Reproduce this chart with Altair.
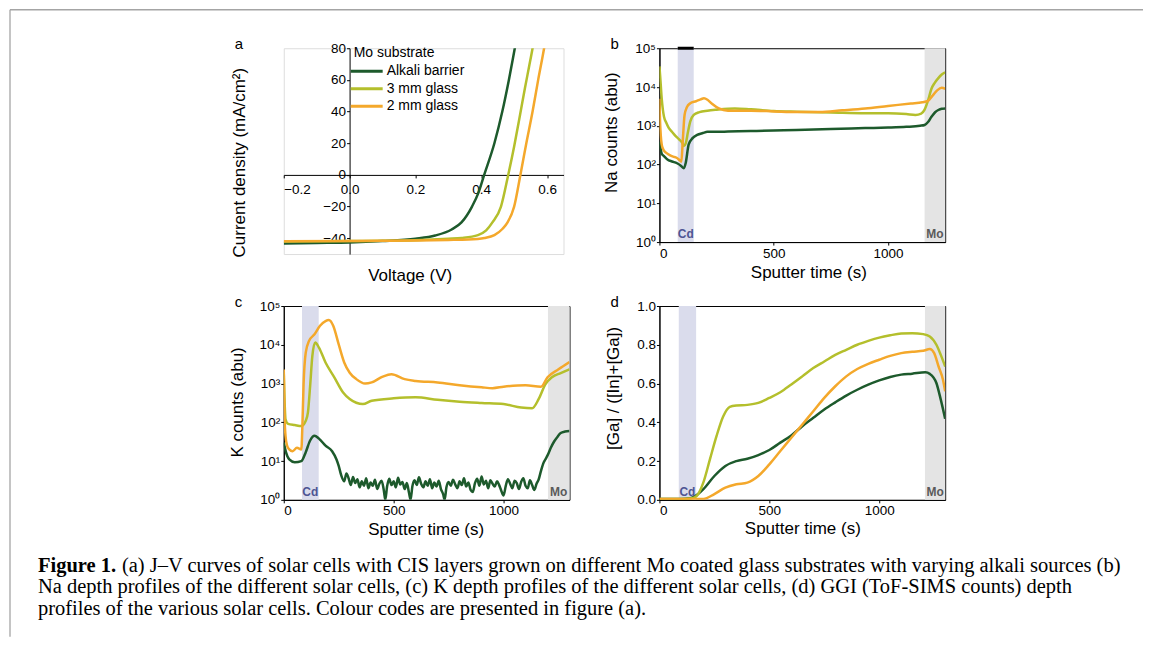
import altair as alt
import pandas as pd

FONT = "Liberation Sans"
SERIF = "Liberation Serif"
SERIES = ["Alkali barrier", "3 mm glass", "2 mm glass"]
COLORS = ["#1d5a2c", "#b4bf2c", "#f4a82b"]

# ---------------- panel a : J-V curves ----------------
jv_v_ab = [-0.2, -0.1, 0.0, 0.1, 0.2, 0.26, 0.31, 0.34, 0.372, 0.392, 0.409, 0.44, 0.464, 0.484, 0.502, 0.52]
jv_j_ab = [-43.3, -43.0, -42.7, -41.8, -40.3, -38.3, -34.5, -30.0, -20.0, -11.0, 0.0, 20.0, 40.0, 60.0, 80.0, 100.0]
jv_v_3 = [-0.2, 0.0, 0.1, 0.2, 0.3, 0.34, 0.39, 0.415, 0.434, 0.46, 0.482, 0.50, 0.518, 0.533, 0.545, 0.556, 0.57]
jv_j_3 = [-42.0, -41.8, -41.6, -41.2, -40.3, -39.8, -38.0, -35.0, -30.0, -20.0, 0.0, 18.0, 38.0, 55.0, 68.0, 80.0, 98.0]
jv_v_2 = [-0.2, 0.0, 0.1, 0.2, 0.3, 0.36, 0.41, 0.44, 0.465, 0.48, 0.50, 0.519, 0.537, 0.556, 0.573, 0.591, 0.605]
jv_j_2 = [-41.9, -41.8, -41.6, -41.4, -41.1, -40.8, -39.8, -38.0, -34.0, -30.0, -20.0, 0.0, 20.0, 40.0, 60.0, 80.0, 98.0]

# ---------------- panel b : Na depth profiles ----------------
na_t_ab = [0, 5, 10, 20, 35, 55, 77, 95, 107, 115, 128, 145, 165, 190, 210, 250, 300, 400, 500, 600, 750, 900, 1000, 1080, 1140, 1160, 1175, 1190, 1205, 1220, 1235, 1250]
na_v_ab = [390, 260, 190, 165, 135, 120, 108, 92, 80, 110, 330, 480, 580, 650, 700, 700, 710, 730, 755, 780, 830, 870, 900, 940, 1000, 1050, 1250, 1700, 2200, 2550, 2750, 2800]
na_t_3 = [0, 3, 6, 10, 15, 20, 30, 40, 55, 70, 85, 100, 107, 115, 125, 135, 150, 175, 210, 250, 330, 400, 500, 600, 750, 900, 1000, 1080, 1120, 1145, 1160, 1175, 1190, 1205, 1220, 1235, 1250]
na_v_3 = [34000, 20000, 11000, 5000, 2600, 1700, 1200, 900, 700, 550, 450, 360, 300, 350, 700, 1300, 1900, 2250, 2450, 2600, 2800, 2650, 2400, 2300, 2200, 2100, 2100, 2000, 1900, 2050, 2600, 4500, 9000, 13000, 17000, 21000, 24000]
na_t_2 = [0, 3, 6, 10, 15, 22, 30, 45, 60, 75, 88, 96, 102, 110, 120, 135, 160, 180, 195, 210, 230, 260, 300, 400, 500, 600, 700, 800, 900, 1000, 1100, 1150, 1175, 1195, 1215, 1235, 1250]
na_v_2 = [5000, 1200, 550, 330, 260, 220, 200, 175, 160, 150, 130, 118, 400, 1900, 3000, 3800, 4300, 4800, 5100, 4700, 3700, 2800, 2450, 2450, 2350, 2250, 2250, 2500, 2800, 3250, 3750, 4050, 4400, 6000, 8200, 9500, 9000]

# ---------------- panel c : K depth profiles ----------------
k_t_ab = [0, 10, 25, 50, 80, 100, 120, 140, 160, 190, 220, 240, 250, 262, 275, 285, 295, 305, 315, 325,
          335, 345, 355, 365, 375, 385, 395, 405, 415, 425, 435, 445, 455, 462, 470, 480, 490, 500, 510, 520,
          530, 540, 550, 560, 570, 577, 585, 595, 605, 615, 625, 635, 645, 655, 665, 675, 685, 695, 705, 715,
          725, 732, 740, 750, 760, 770, 780, 790, 800, 810, 820, 830, 840, 850, 860, 870, 880, 890, 900, 910,
          920, 930, 940, 950, 960, 970, 980, 990, 1000, 1010, 1020, 1030, 1040, 1050, 1060, 1070, 1080, 1090, 1100, 1110,
          1120, 1130, 1140, 1150, 1160, 1170, 1180, 1190, 1200, 1215, 1230, 1245, 1260, 1280, 1300]
k_v_ab = [30, 17, 11, 9.3, 10, 17, 34, 45, 38, 25, 18, 11, 7.5, 4.2, 3.0, 4.8, 3.6, 2.4, 3.9, 2.7,
          3.4, 2.1, 3.0, 2.3, 3.6, 2.0, 2.8, 2.3, 3.3, 1.9, 2.6, 3.1, 1.8, 1.0, 2.2, 3.5, 2.4, 3.0, 2.1, 3.7,
          2.5, 2.9, 1.9, 2.7, 1.5, 1.0, 2.2, 3.2, 2.4, 3.8, 2.6, 2.1, 3.0, 2.3, 3.4, 2.0, 2.8, 2.2, 3.1, 1.9,
          1.4, 1.0, 2.1, 2.9, 2.3, 3.3, 2.5, 2.0, 3.0, 2.4, 3.6, 2.2, 2.8, 1.8, 1.6, 2.7, 3.5, 2.3, 4.0, 2.5,
          3.1, 2.0, 3.2, 2.6, 2.2, 3.0, 2.4, 1.7, 1.3, 2.3, 3.4, 2.6, 2.0, 3.1, 2.7, 1.9, 2.9, 3.6, 2.3, 2.0,
          3.2, 2.4, 1.8, 2.6, 3.4, 5.5, 8.5, 11, 14, 22, 32, 42, 53, 58, 60]
k_t_3 = [0, 3, 8, 20, 50, 80, 100, 110, 120, 130, 143, 160, 190, 230, 270, 300, 330, 360, 400, 500, 600, 700, 800, 900, 1000, 1080, 1130, 1160, 1190, 1220, 1260, 1300]
k_v_3 = [1900, 480, 120, 91, 85, 80, 110, 180, 870, 5100, 11500, 8500, 3500, 1450, 590, 400, 320, 295, 360, 415, 440, 380, 340, 315, 295, 240, 230, 400, 950, 1450, 1860, 2340]
k_t_2 = [0, 3, 8, 15, 25, 40, 60, 80, 85, 90, 100, 115, 140, 165, 190, 205, 225, 250, 275, 300, 330, 370, 400, 450, 490, 550, 600, 700, 800, 900, 950, 1000, 1100, 1170, 1200, 1250, 1300]
k_v_2 = [2300, 180, 45, 25, 20, 18, 22, 20, 90, 900, 6300, 12600, 18600, 31000, 41000, 43500, 31000, 10200, 3500, 1900, 1300, 1000, 1070, 1510, 1740, 1300, 1170, 1070, 910, 800, 760, 830, 910, 830, 1450, 2340, 3600]

# ---------------- panel d : GGI depth profiles ----------------
g_t_ab = [0, 100, 140, 160, 200, 250, 300, 350, 400, 450, 500, 550, 600, 650, 700, 750, 800, 850, 900, 950, 1000, 1050, 1100, 1150, 1210, 1230, 1260, 1280, 1300]
g_v_ab = [0.005, 0.005, 0.008, 0.017, 0.055, 0.123, 0.175, 0.20, 0.212, 0.231, 0.257, 0.295, 0.332, 0.38, 0.423, 0.466, 0.503, 0.538, 0.568, 0.594, 0.616, 0.634, 0.646, 0.651, 0.658, 0.65, 0.603, 0.517, 0.418]
g_t_3 = [0, 100, 150, 170, 200, 230, 260, 290, 320, 350, 400, 450, 500, 550, 600, 650, 700, 750, 800, 850, 900, 950, 1000, 1050, 1100, 1150, 1200, 1230, 1260, 1280, 1300]
g_v_3 = [0.005, 0.005, 0.008, 0.02, 0.09, 0.21, 0.33, 0.43, 0.48, 0.487, 0.49, 0.50, 0.526, 0.555, 0.595, 0.637, 0.68, 0.714, 0.748, 0.774, 0.80, 0.82, 0.837, 0.849, 0.858, 0.86, 0.855, 0.843, 0.80, 0.748, 0.688]
g_t_2 = [0, 100, 170, 200, 250, 300, 350, 400, 450, 500, 550, 600, 650, 700, 750, 800, 850, 900, 950, 1000, 1050, 1100, 1150, 1200, 1230, 1250, 1270, 1290, 1300]
g_v_2 = [0.005, 0.005, 0.005, 0.005, 0.03, 0.063, 0.08, 0.089, 0.123, 0.183, 0.252, 0.32, 0.389, 0.457, 0.526, 0.586, 0.637, 0.675, 0.702, 0.723, 0.743, 0.757, 0.764, 0.769, 0.778, 0.757, 0.688, 0.62, 0.56]

# layer bands (Cd buffer, Mo back contact) per panel
bands_b = [80, 150, 1160, 1250]
bands_c = [83, 159, 1202, 1300]
bands_d = [88, 167, 1208, 1300]

CAPTION_BOLD = "Figure 1."
CAPTION_1 = "(a) J\u2013V curves of solar cells with CIS layers grown on different Mo coated glass substrates with varying alkali sources (b)"
CAPTION_2 = "Na depth profiles of the different solar cells, (c) K depth profiles of the different solar cells, (d) GGI (ToF-SIMS counts) depth"
CAPTION_3 = "profiles of the various solar cells. Colour codes are presented in figure (a)."

SUP = ["\u2070", "\u00b9", "\u00b2", "\u00b3", "\u2074", "\u2075"]


def long_df(xs_list, ys_list):
    rows = []
    for name, xs, ys in zip(SERIES, xs_list, ys_list):
        assert len(xs) == len(ys), name
        for i, (x, y) in enumerate(zip(xs, ys)):
            rows.append({"x": x, "y": y, "s": name, "o": i})
    return pd.DataFrame(rows)


ONE = pd.DataFrame({"k": [0]})
PW, PH = 286, 194

color_nolegend = alt.Color("s:N", scale=alt.Scale(domain=SERIES, range=COLORS), legend=None)


def letter(ch, dx, dy):
    return alt.Chart(ONE).mark_text(font=FONT, fontSize=15, align="left", baseline="middle", color="black").encode(
        x=alt.value(dx), y=alt.value(dy), text=alt.value(ch))


def depth_panel(df, bands, xmax, ylog, ytitle, ytx, yty, xtx, xty, lab, top_bar=False):
    xs = alt.Scale(domain=[0, xmax], nice=False)
    xaxis = alt.Axis(values=[0, 500, 1000], format="d", title="Sputter time (s)",
                     titleX=xtx, titleY=xty, titleBaseline="middle")
    if ylog:
        ys = alt.Scale(type="log", domain=[1, 1e5], nice=False)
        yaxis = alt.Axis(values=[1, 10, 100, 1000, 10000, 100000], title=ytitle,
                         labelExpr="'10' + " + str(SUP) + "[round(log(datum.value)/LN10)]",
                         titleX=ytx, titleY=yty, titleBaseline="middle")
    else:
        ys = alt.Scale(domain=[0, 1], nice=False)
        yaxis = alt.Axis(values=[0, 0.2, 0.4, 0.6, 0.8, 1.0], format=".1f", title=ytitle,
                         titleX=ytx, titleY=yty, titleBaseline="middle")
    X = alt.X("x:Q", scale=xs, axis=xaxis)
    bdf = pd.DataFrame({"x": [bands[0], bands[2]], "x2": [bands[1], bands[3]],
                        "lab": ["Cd", "Mo"], "c": [(bands[0] + bands[1]) / 2, (bands[2] + bands[3]) / 2]})
    band = alt.Chart(bdf).mark_rect().encode(
        x=X, x2="x2:Q",
        color=alt.Color("lab:N", scale=alt.Scale(domain=["Cd", "Mo"], range=["#dadcec", "#e4e4e4"]), legend=None))
    lines = alt.Chart(df).mark_line(strokeWidth=2.5, clip=True, interpolate="monotone").encode(
        x=X, y=alt.Y("y:Q", scale=ys, axis=yaxis), color=color_nolegend, order="o:Q")
    labs = alt.Chart(bdf).mark_text(font=FONT, fontSize=12, fontWeight="bold", baseline="bottom").encode(
        x=alt.X("c:Q", scale=xs, axis=xaxis), y=alt.value(PH - 1), text="lab:N",
        color=alt.Color("lab:N", scale=alt.Scale(domain=["Cd", "Mo"], range=["#4e5593", "#5a5a5a"]), legend=None))
    layers = [band, lines, labs, letter(lab, -49, -4)]
    if top_bar:
        bar = alt.Chart(bdf.iloc[:1]).mark_rule(color="black", strokeWidth=3).encode(
            x=X, x2="x2:Q", y=alt.value(0))
        layers.append(bar)
    return alt.layer(*layers).resolve_scale(color="independent").properties(
        width=PW, height=PH, view=alt.ViewBackground(stroke="black", strokeWidth=1))


# ---------- panel a ----------
AW, AH = 280, 206
a_xs = alt.Scale(domain=[-0.2, 0.65], nice=False)
a_ys = alt.Scale(domain=[-50, 80], nice=False)
x_off = AW * 0.2 / 0.85
y_off = AH * 50 / 130
jv = long_df([jv_v_ab, jv_v_3, jv_v_2], [jv_j_ab, jv_j_3, jv_j_2])
a_lines = alt.Chart(jv).mark_line(strokeWidth=2.5, clip=True, interpolate="monotone").encode(
    x=alt.X("x:Q", scale=a_xs, axis=alt.Axis(values=[-0.2, 0, 0.2, 0.4, 0.6], format=".1f", offset=-y_off,
                                             labelPadding=5, title="Voltage (V)", titleX=126, titleY=101,
                                             titleBaseline="middle")),
    y=alt.Y("y:Q", scale=a_ys, axis=alt.Axis(values=[-40, -20, 0, 20, 40, 60, 80], offset=-x_off,
                                             title="Current density (mA/cm\u00b2)", titleX=-110, titleY=114,
                                             titleBaseline="middle")),
    color=alt.Color("s:N", scale=alt.Scale(domain=SERIES, range=COLORS),
                    legend=alt.Legend(title="Mo substrate", orient="none", legendX=70, legendY=-2,
                                      symbolType="M-3.2,0H3.2", symbolSize=100, symbolStrokeWidth=3,
                                      symbolOffset=6, labelOffset=13, rowPadding=3.5, titlePadding=4,
                                      labelFontSize=14, titleFontSize=14, titleFontWeight="normal",
                                      labelFont=FONT, titleFont=FONT, padding=0, labelColor="black",
                                      titleColor="black")),
    order="o:Q")
border_left = alt.Chart(ONE).mark_rule(color="#c4c4c4", strokeWidth=2).encode(
    x=alt.value(-274), y=alt.value(-38.5), y2=alt.value(589))
border_top = alt.Chart(ONE).mark_rule(color="#a4a4a4", strokeWidth=1.5).encode(
    x=alt.value(-274), x2=alt.value(860), y=alt.value(-38.5))
panel_a = alt.layer(border_left, border_top, a_lines, letter("a", -49, -4)).properties(width=AW, height=AH)

# ---------- panels b, c, d ----------
panel_b = depth_panel(long_df([na_t_ab, na_t_3, na_t_2], [na_v_ab, na_v_3, na_v_2]), bands_b, 1250, True,
                      "Na counts (abu)", -48, 84, 149, 30, "b", top_bar=True)

CAP_FS = 20.5
cap = []
cap.append(alt.Chart(ONE).mark_text(font=SERIF, fontSize=CAP_FS, fontWeight="bold", align="left",
                                    baseline="alphabetic", color="black").encode(
    x=alt.value(-246), y=alt.value(266), text=alt.value(CAPTION_BOLD)))
for txt, xx, yy in [(CAPTION_1, -162, 266), (CAPTION_2, -246, 287.5), (CAPTION_3, -246, 309)]:
    cap.append(alt.Chart(ONE).mark_text(font=SERIF, fontSize=CAP_FS, align="left", baseline="alphabetic",
                                        color="black").encode(
        x=alt.value(xx), y=alt.value(yy), text=alt.value(txt)))

panel_c = depth_panel(long_df([k_t_ab, k_t_3, k_t_2], [k_v_ab, k_v_3, k_v_2]), bands_c, 1300, True,
                      "K counts (abu)", -46, 96, 142, 30, "c")
panel_c = alt.layer(panel_c, *cap)
panel_d = depth_panel(long_df([g_t_ab, g_t_3, g_t_2], [g_v_ab, g_v_3, g_v_2]), bands_d, 1300, False,
                      "[Ga] / ([In]+[Ga])", -46, 82, 143, 29, "d")

chart = alt.concat(panel_a, panel_b, panel_c, panel_d, columns=2, spacing={"row": 52, "column": 90},
                   bounds="flush").resolve_scale(color="independent", x="independent", y="independent").properties(
    padding=0, background="white"
).configure_view(stroke=None).configure(font=FONT).configure_axis(
    labelFont=FONT, labelFontSize=13.5, titleFont=FONT, titleFontSize=17, titleFontWeight="normal",
    labelColor="black", titleColor="black", domainColor="black", tickColor="black", tickSize=3,
    grid=False, labelPadding=1, domainWidth=1, tickWidth=1)

chart.save("out.html", embed_options={"renderer": "svg", "actions": False})
